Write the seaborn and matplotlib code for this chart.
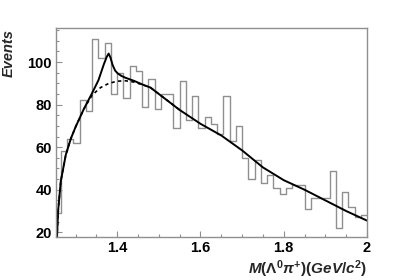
import numpy as np
import pandas as pd
import matplotlib
matplotlib.use('Agg')
import matplotlib.pyplot as plt
from matplotlib.ticker import MultipleLocator
import seaborn as sns

# histogram: 50 bins from 1.25 to 2.0 GeV
bin_lo = 1.25
bin_hi = 2.0
counts = [29, 58, 64, 62, 82, 77, 111, 102, 109, 85,
          95, 83, 98, 96, 79, 92, 78, 85, 85, 69,
          91, 73, 84, 69, 74, 71, 66, 84, 63, 70,
          55, 45, 54, 43, 47, 41, 38, 41, 42, 42,
          31, 36, 36, 36, 49, 22, 39, 32, 27, 28]

# total fit (solid)
fit_x = [1.2553, 1.258, 1.2645, 1.2765, 1.2886, 1.30, 1.32, 1.34, 1.355, 1.368,
         1.375, 1.3795, 1.384, 1.389, 1.395, 1.401, 1.41, 1.42, 1.44, 1.46,
         1.48, 1.50, 1.55, 1.60, 1.65, 1.70, 1.75, 1.80, 1.85, 1.90, 1.95, 2.00]
fit_y = [17, 30, 44, 56.4, 64, 69.5, 78, 85.5, 91.5, 99,
         102.5, 104, 102, 98.6, 96, 94.7, 93.5, 92.6, 91.2, 89.5,
         88, 85, 77.5, 71, 65.5, 58.5, 50.5, 44.5, 40, 35, 30, 25.5]

# background only (dashed)
bkg_x = [1.2553, 1.258, 1.2645, 1.2765, 1.2886, 1.30, 1.32, 1.34, 1.36, 1.38,
         1.40, 1.42, 1.44, 1.46, 1.48, 1.50, 1.55]
bkg_y = [17, 30, 44, 56.4, 64, 69.5, 78, 84.5, 88, 90,
         91, 91.2, 90.6, 89.4, 88, 85, 77.5]

sns.set_theme(style='ticks')
plt.rcParams['font.family'] = ['Liberation Sans', 'DejaVu Sans']
plt.rcParams['mathtext.fontset'] = 'custom'
plt.rcParams['mathtext.it'] = 'Liberation Sans:italic:bold'
plt.rcParams['mathtext.rm'] = 'Liberation Sans:bold'
plt.rcParams['mathtext.bf'] = 'Liberation Sans:bold'

nbins = len(counts)
width = (bin_hi - bin_lo) / nbins
centers = [bin_lo + (i + 0.5) * width for i in range(nbins)]
hist_df = pd.DataFrame({'m': centers, 'n': counts})

fig = plt.figure(figsize=(4.07, 2.80), dpi=100)
ax = fig.add_axes([0.1376, 0.1536, 0.7641, 0.7464])

sns.histplot(data=hist_df, x='m', weights='n', bins=nbins,
             binrange=(bin_lo, bin_hi), element='step',
             fill=False, color='#8f8f8f', linewidth=1.0, ax=ax)
sns.lineplot(x=bkg_x, y=bkg_y, color='black', linewidth=1.2,
             linestyle=(0, (2, 2)), ax=ax)
sns.lineplot(x=fit_x, y=fit_y, color='black', linewidth=1.4, ax=ax)

ax.set_xlim(1.253, 2.0)
ax.set_ylim(17.8, 116)

ax.set_xticks([1.4, 1.6, 1.8, 2.0])
ax.set_xticklabels(['1.4', '1.6', '1.8', '2'])
ax.xaxis.set_minor_locator(MultipleLocator(0.05))
ax.set_yticks([20, 40, 60, 80, 100])
ax.yaxis.set_minor_locator(MultipleLocator(5))

ax.tick_params(which='both', direction='in', colors='#8f8f8f', width=0.8,
               labelcolor='black', labelsize=10.5, pad=3)
ax.tick_params(which='major', length=4.5)
ax.tick_params(which='minor', length=2.5)
for lab in ax.get_xticklabels() + ax.get_yticklabels():
    lab.set_fontweight('bold')

for sp in ax.spines.values():
    sp.set_visible(True)
    sp.set_color('#8f8f8f')
    sp.set_linewidth(1.0)

ax.set_xlabel(r'$M(\Lambda^{0}\pi^{+})(GeV/c^{2})$', fontsize=11,
              loc='right', labelpad=2)
ax.set_ylabel('')
fig.text(9 / 407, 1 - 29 / 280, 'Events', rotation=90, ha='center', va='top',
         fontsize=10.5, fontweight='bold', fontstyle='italic')

fig.savefig('out.png', dpi=100)
